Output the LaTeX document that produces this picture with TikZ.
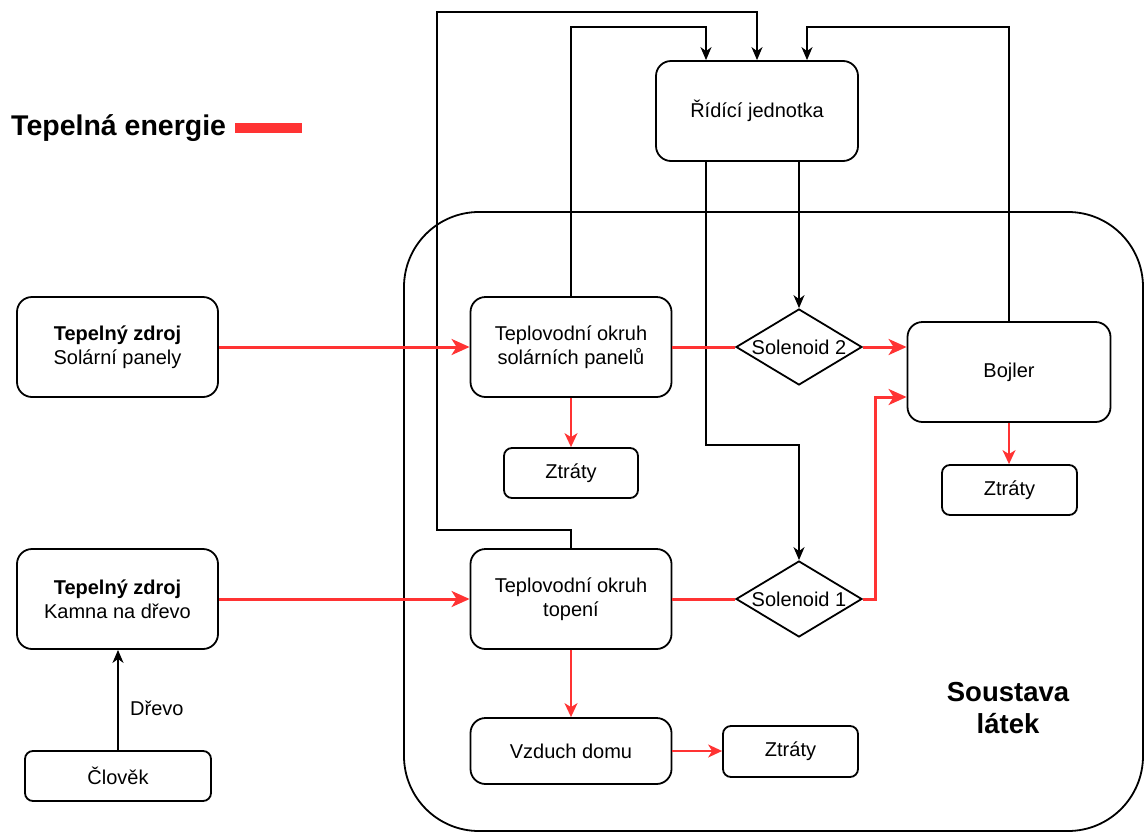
\documentclass[tikz,border=0pt]{standalone}
\usepackage{fontspec}
\setmainfont{Liberation Sans}
\usetikzlibrary{shapes.geometric,arrows.meta}
\definecolor{heatred}{RGB}{255,51,51}
\begin{document}
\begin{tikzpicture}[x=1pt,y=-1pt,
  font=\fontsize{20}{24}\selectfont,
  box/.style={draw, line width=1.8pt, rounded corners=15pt, align=center,
    minimum width=201pt, minimum height=100pt, inner sep=0pt},
  smallbox/.style={box, rounded corners=8pt, minimum width=134pt, minimum height=50pt},
  valve/.style={diamond, draw, line width=1.8pt, minimum width=126pt,
    minimum height=76pt, inner sep=0pt},
  ctlline/.style={line width=1.8pt},
  ctl/.style={ctlline, -{Stealth[length=13pt,width=11pt,inset=4pt]}},
  heat/.style={heatred, line width=3pt},
  heatarr/.style={heat, -{Stealth[length=18pt,width=16pt,inset=5pt]}},
  loss/.style={heatred, line width=1.8pt, -{Stealth[length=14pt,width=13pt,inset=4pt]}},
  bigtext/.style={font=\fontsize{27.5}{32}\selectfont\bfseries, align=center, inner sep=0pt}
]
\useasboundingbox (0,0) rectangle (1146,833);

% system boundary
\node[draw, line width=1.8pt, rounded corners=75pt, minimum width=739pt,
  minimum height=619pt, inner sep=0pt] (sys) at (773.5,521.5) {};
\node[bigtext] (syslabel) at (1008,708) {Soustava\\látek};

% legend
\node[bigtext, font=\fontsize{28.5}{32}\selectfont\bfseries, anchor=west] (legend) at (11,128) {Tepelná energie};
\node[fill=heatred, minimum width=67pt, minimum height=10pt, inner sep=0pt] (bar) at (268.5,128) {};

% nodes
\node[box, minimum width=202pt] (rj) at (757,111) {Řídící jednotka};
\node[box] (sp) at (117.5,347) {\textbf{Tepelný zdroj}\\Solární panely};
\node[box] (solc) at (571,347) {Teplovodní okruh\\solárních panelů};
\node[valve, label={center:Solenoid 2}] (s2) at (799,347) {};
\node[box, minimum width=203pt] (boj) at (1009,372) {Bojler};
\node[smallbox] (z1) at (571,473) {Ztráty};
\node[smallbox, minimum width=135pt] (z2) at (1009.5,490) {Ztráty};
\node[box] (kamna) at (117.5,599) {\textbf{Tepelný zdroj}\\Kamna na dřevo};
\node[box] (topeni) at (571,599) {Teplovodní okruh\\topení};
\node[valve, label={center:Solenoid 1}] (s1) at (799,599) {};
\node[box, minimum height=66pt] (vz) at (571,751) {Vzduch domu};
\node[smallbox, minimum width=135pt, minimum height=51pt] (z3) at (790.5,751.5) {Ztráty};
\node[smallbox, minimum width=186pt] (clovek) at (118,776) {Člověk};

% control connections
\draw[ctl] (topeni.north) -- ++(0,-18) -| (437,12) -| (rj.north);
\draw[ctl] (solc.north) |- ([xshift=-51pt,yshift=33pt]rj.north) -- ([xshift=-51pt]rj.north);
\draw[ctl] (boj.north) |- ([xshift=50pt,yshift=33pt]rj.north) -- ([xshift=50pt]rj.north);
\draw[ctl] ([xshift=-51pt]rj.south) |- ([yshift=115pt]s1.north) -- (s1.north);
\draw[ctl] ([xshift=42pt]rj.south) -- (s2.north);

% heat flows
\draw[heatarr] (sp.east) -- (solc.west);
\draw[heat] (solc.east) -- (s2.west);
\draw[heatarr] (s2.east) -- (s2.east -| boj.west);
\draw[heatarr] (kamna.east) -- (topeni.west);
\draw[heat] (topeni.east) -- (s1.west);
\draw[heatarr] (s1.east) -- ++(13,0) |- ([yshift=-25pt]boj.west);

% losses
\draw[loss] (solc.south) -- (z1.north -| solc.south);
\draw[loss] (boj.south) -- (boj.south |- z2.north);
\draw[loss] (topeni.south) -- (vz.north);
\draw[loss] (vz.east) -- (vz.east -| z3.west);

% wood
\draw[ctl] (clovek.north) -- node[pos=0.42, right, xshift=8pt] (drevo) {Dřevo} (clovek.north |- kamna.south);
\end{tikzpicture}
\end{document}
